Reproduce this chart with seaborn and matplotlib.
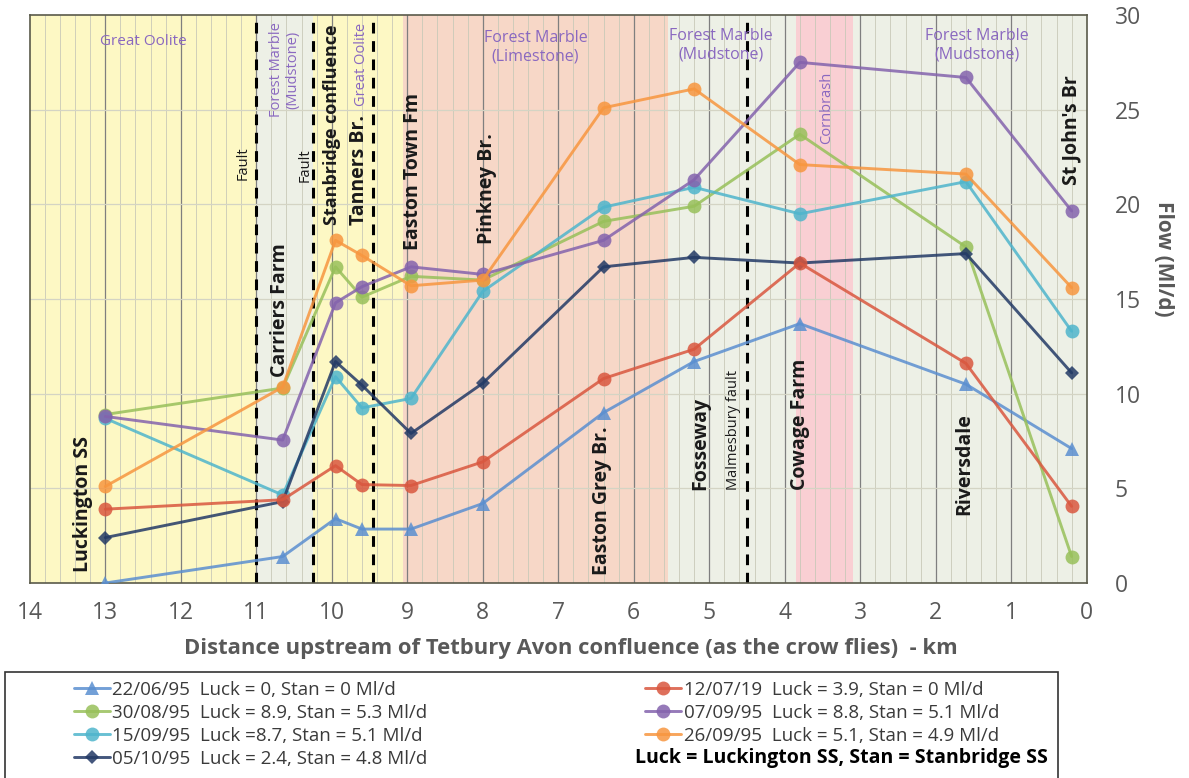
import numpy as np
import pandas as pd
import matplotlib
matplotlib.use("Agg")
import matplotlib.pyplot as plt
from matplotlib.patches import Rectangle
import seaborn as sns

# --- data: distance upstream (km) of each gauging point
stations = ["Luckington SS", "Carriers Farm", "Stanbridge confluence", "Tanners Br.",
            "Easton Town Fm", "Pinkney Br.", "Easton Grey Br.", "Fosseway",
            "Cowage Farm", "Riversdale", "St John's Br"]
distance_km = [13.0, 10.65, 9.95, 9.6, 8.95, 8.0, 6.4, 5.2, 3.8, 1.6, 0.2]

# flows (Ml/d) per survey
flow_220695 = [0.0, 1.4, 3.4, 2.85, 2.85, 4.2, 9.0, 11.7, 13.7, 10.5, 7.1]
flow_300895 = [8.9, 10.3, 16.7, 15.1, 16.2, 16.0, 19.1, 19.9, 23.7, 17.75, 1.4]
flow_150995 = [8.7, 4.65, 10.9, 9.25, 9.75, 15.4, 19.85, 20.9, 19.5, 21.2, 13.3]
flow_051095 = [2.4, 4.3, 11.7, 10.45, 7.9, 10.55, 16.7, 17.2, 16.9, 17.4, 11.1]
flow_120719 = [3.9, 4.4, 6.2, 5.2, 5.15, 6.4, 10.8, 12.35, 16.9, 11.6, 4.05]
flow_070995 = [8.8, 7.55, 14.8, 15.65, 16.7, 16.3, 18.1, 21.3, 27.5, 26.7, 19.65]
flow_260995 = [5.1, 10.35, 18.1, 17.3, 15.7, 16.0, 25.1, 26.1, 22.1, 21.6, 15.6]

series_labels = ["22/06/95  Luck = 0, Stan = 0 Ml/d",
                 "30/08/95  Luck = 8.9, Stan = 5.3 Ml/d",
                 "15/09/95  Luck =8.7, Stan = 5.1 Ml/d",
                 "05/10/95  Luck = 2.4, Stan = 4.8 Ml/d",
                 "12/07/19  Luck = 3.9, Stan = 0 Ml/d",
                 "07/09/95  Luck = 8.8, Stan = 5.1 Ml/d",
                 "26/09/95  Luck = 5.1, Stan = 4.9 Ml/d"]
series_flows = [flow_220695, flow_300895, flow_150995, flow_051095,
                flow_120719, flow_070995, flow_260995]
series_colors = ["#5b8fd0", "#98c05a", "#4fb5cc", "#233a66",
                 "#d9573f", "#8463ad", "#f7963f"]
series_markers = ["^", "o", "o", "D", "o", "o", "o"]
note = "Luck = Luckington SS, Stan = Stanbridge SS"

# geology bands (km from, km to, colour)
bands = [(14.0, 11.0, "#fdf8c4"), (11.0, 10.25, "#edf0e6"), (10.25, 9.05, "#fdf8c4"),
         (9.05, 5.55, "#f7d7c7"), (5.55, 3.85, "#edf0e6"), (3.85, 3.1, "#f9cfd3"),
         (3.1, 0.0, "#edf0e6")]
faults = [11.0, 10.25, 9.45, 4.5]

rows = []
for lab, fl in zip(series_labels, series_flows):
    for d, f in zip(distance_km, fl):
        rows.append({"survey": lab, "km": d, "flow": f})
df = pd.DataFrame(rows)

sns.set_style("white")
plt.rcParams["font.family"] = ["Open Sans", "DejaVu Sans"]

fig = plt.figure(figsize=(11.89, 7.78), dpi=100)
ax = fig.add_axes([0.025, 0.2506, 0.889, 0.7301])

for x0, x1, c in bands:
    ax.axvspan(x0, x1, color=c, zorder=0, lw=0)

# grid
for x in np.arange(0.2, 14, 0.2):
    if abs(x - round(x)) > 1e-6:
        ax.axvline(x, color="#c9c9b8", lw=0.6, zorder=0.5)
for x in range(1, 14):
    ax.axvline(x, color="#7f7f7f", lw=0.9, zorder=0.6)
for y in range(5, 30, 5):
    ax.axhline(y, color="#d4d4c4", lw=0.9, zorder=0.6)

for f in faults:
    ax.axvline(f, color="black", lw=2.2, ls=(0, (3.5, 2.5)), zorder=1)

sns.lineplot(data=df, x="km", y="flow", hue="survey", style="survey",
             hue_order=series_labels, style_order=series_labels,
             palette=dict(zip(series_labels, series_colors)),
             markers=dict(zip(series_labels, series_markers)),
             dashes=False, markersize=10, markeredgewidth=0, lw=2.1,
             alpha=0.85, sort=False, ax=ax, zorder=3)
for ln in ax.lines:
    if ln.get_marker() == "D":
        ln.set_markersize(7.5)

ax.set_xlim(14, 0)
ax.set_ylim(0, 30)
ax.set_xticks(range(14, -1, -1))
ax.set_yticks(range(0, 31, 5))
ax.yaxis.tick_right()
ax.yaxis.set_label_position("right")
ax.tick_params(axis="both", length=0, labelsize=16.5, labelcolor="#595959")
ax.tick_params(axis="x", pad=13)
ax.tick_params(axis="y", pad=20)
for s in ax.spines.values():
    s.set_color("#5a5a4a")
    s.set_linewidth(1.2)
ax.set_xlabel("Distance upstream of Tetbury Avon confluence (as the crow flies)  - km",
              fontsize=15.8, fontweight="bold", color="#595959")
ax.xaxis.set_label_coords(0.512, -0.096)
ax.set_ylabel("Flow (Ml/d)", fontsize=15, fontweight="bold", color="#595959",
              rotation=-90, va="center")
ax.yaxis.set_label_coords(1.073, 0.57)

# station / feature labels
site_text = [("Luckington SS", 13.3, 0.6, 14), ("Carriers Farm", 10.68, 10.9, 14),
             ("Stanbridge confluence", 10.0, 18.9, 13), ("Tanners Br.", 9.64, 18.9, 14),
             ("Easton Town Fm", 8.93, 17.6, 14), ("Pinkney Br.", 7.95, 17.9, 14),
             ("Easton Grey Br.", 6.42, 0.4, 14), ("Fosseway", 5.12, 4.9, 14),
             ("Cowage Farm", 3.8, 4.9, 14), ("Riversdale", 1.62, 3.6, 14),
             ("St John's Br", 0.2, 21.0, 14)]
for t, x, y, fs in site_text:
    ax.text(x, y, t, rotation=90, ha="center", va="bottom", fontsize=fs,
            fontweight="bold", color="#1a1a1a", zorder=5)
for t, x, y in [("Fault", 11.17, 21.3), ("Fault", 10.35, 21.2), ("Malmesbury fault", 4.68, 4.9)]:
    ax.text(x, y, t, rotation=90, ha="center", va="bottom", fontsize=10.5,
            color="#1a1a1a", zorder=5)

purple = "#8a68c0"
ax.text(12.5, 28.6, "Great Oolite", ha="center", va="center", fontsize=11, color=purple)
ax.text(7.3, 28.3, "Forest Marble\n(Limestone)", ha="center", va="center", fontsize=11.5,
        color=purple, linespacing=1.2)
ax.text(4.85, 28.4, "Forest Marble\n(Mudstone)", ha="center", va="center", fontsize=11.5,
        color=purple, linespacing=1.2)
ax.text(1.45, 28.4, "Forest Marble\n(Mudstone)", ha="center", va="center", fontsize=11.5,
        color=purple, linespacing=1.2)
ax.text(10.62, 29.6, "Forest Marble\n(Mudstone)", rotation=90, ha="center", va="top",
        fontsize=10.5, color=purple, linespacing=1.15)
ax.text(9.6, 29.6, "Great Oolite", rotation=90, ha="center", va="top", fontsize=10.5,
        color=purple)
ax.text(3.45, 27.0, "Cornbrash", rotation=90, ha="center", va="top", fontsize=10.5,
        color=purple)

# legend below the plot, with its own frame
handles, labels = ax.get_legend_handles_labels()
ax.get_legend().remove()
W, H = 1189.0, 778.0
fig.patches.append(Rectangle((5 / W, -0.02), 1053 / W, 1 - 672 / H + 0.02,
                             transform=fig.transFigure, fill=False,
                             edgecolor="#333333", lw=1.2))
leg = fig.legend(handles, labels, ncol=2, loc="upper left",
                 bbox_to_anchor=(74 / W, 1 - 681 / H), fontsize=13.5, frameon=False,
                 handlelength=1.9, handletextpad=0.15, labelspacing=0.26,
                 borderpad=0, borderaxespad=0, columnspacing=11.6,
                 labelcolor="#3a3a3a")
fig.text(635 / W, 1 - 758 / H, note, ha="left", va="center", fontsize=14,
         fontweight="bold", color="black")

fig.savefig("out.png", dpi=100)
